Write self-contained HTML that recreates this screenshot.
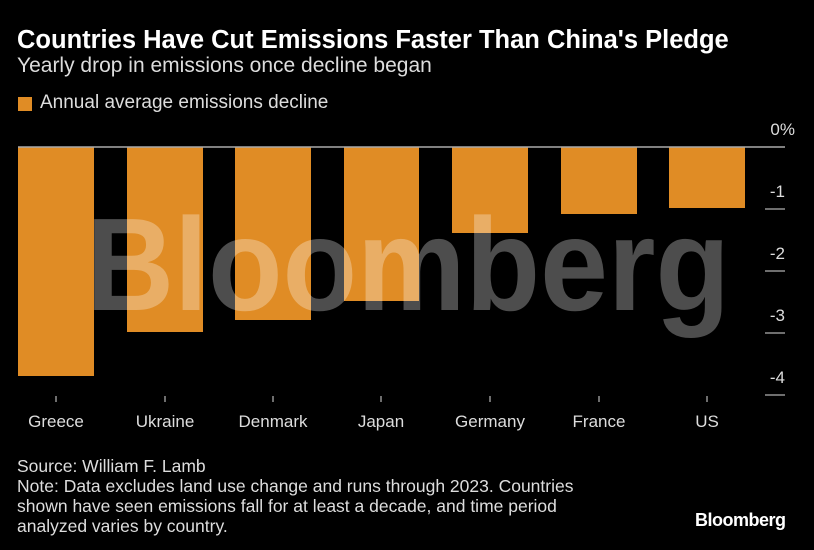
<!DOCTYPE html><html><head><style>
body{margin:0;width:814px;height:550px;background:#000;overflow:hidden;position:relative;font-family:"Liberation Sans",sans-serif;color:#fff}
.a{position:absolute;white-space:nowrap}
</style></head><body>
<div class="a" style="left:17px;top:26px;font-size:25.5px;font-weight:bold">Countries Have Cut Emissions Faster Than China's Pledge</div>
<div class="a" style="left:17px;top:54px;font-size:21px;color:#ddd">Yearly drop in emissions once decline began</div>
<div class="a" style="left:18px;top:97px;width:14px;height:14px;background:#e08c25"></div>
<div class="a" style="left:40px;top:92px;font-size:19px;color:#ddd">Annual average emissions decline</div>
<svg class="a" style="left:0;top:0" width="814" height="550">
<g fill="#e08c25">
<rect x="18" y="147" width="76" height="229"/>
<rect x="127" y="147" width="76" height="185"/>
<rect x="235" y="147" width="76" height="173"/>
<rect x="344" y="147" width="75" height="154"/>
<rect x="452" y="147" width="76" height="86"/>
<rect x="561" y="147" width="76" height="67"/>
<rect x="669" y="147" width="76" height="61"/>
</g>
<line x1="18" y1="147" x2="785" y2="147" stroke="#aaa" stroke-width="1.5"/>
<g stroke="#ddd" stroke-width="1">
<line x1="765" y1="209" x2="785" y2="209"/><line x1="765" y1="271" x2="785" y2="271"/>
<line x1="765" y1="333" x2="785" y2="333"/><line x1="765" y1="395" x2="785" y2="395"/>
<line x1="56" y1="396" x2="56" y2="402"/><line x1="165" y1="396" x2="165" y2="402"/>
<line x1="273" y1="396" x2="273" y2="402"/><line x1="381" y1="396" x2="381" y2="402"/>
<line x1="490" y1="396" x2="490" y2="402"/><line x1="599" y1="396" x2="599" y2="402"/>
<line x1="707" y1="396" x2="707" y2="402"/>
</g>
<text x="86" y="310" font-size="132" font-weight="bold" fill="#fff" fill-opacity="0.3" font-family="Liberation Sans" textLength="644" lengthAdjust="spacingAndGlyphs">Bloomberg</text>
<g font-size="17" fill="#ddd" text-anchor="end">
<text x="795" y="135">0%</text><text x="785" y="197">-1</text><text x="785" y="259">-2</text><text x="785" y="321">-3</text><text x="785" y="383">-4</text>
</g>
<g font-size="17" fill="#ddd" text-anchor="middle">
<text x="56" y="427">Greece</text><text x="165" y="427">Ukraine</text><text x="273" y="427">Denmark</text><text x="381" y="427">Japan</text><text x="490" y="427">Germany</text><text x="599" y="427">France</text><text x="707" y="427">US</text>
</g>
</svg>
<div class="a" style="left:17px;top:456px;font-size:17.5px;line-height:20px;color:#ddd">Source: William F. Lamb<br>Note: Data excludes land use change and runs through 2023. Countries<br>shown have seen emissions fall for at least a decade, and time period<br>analyzed varies by country.</div>
<div class="a" style="left:695px;top:510px;font-size:18px;font-weight:bold;letter-spacing:-0.5px">Bloomberg</div>
</body></html>
